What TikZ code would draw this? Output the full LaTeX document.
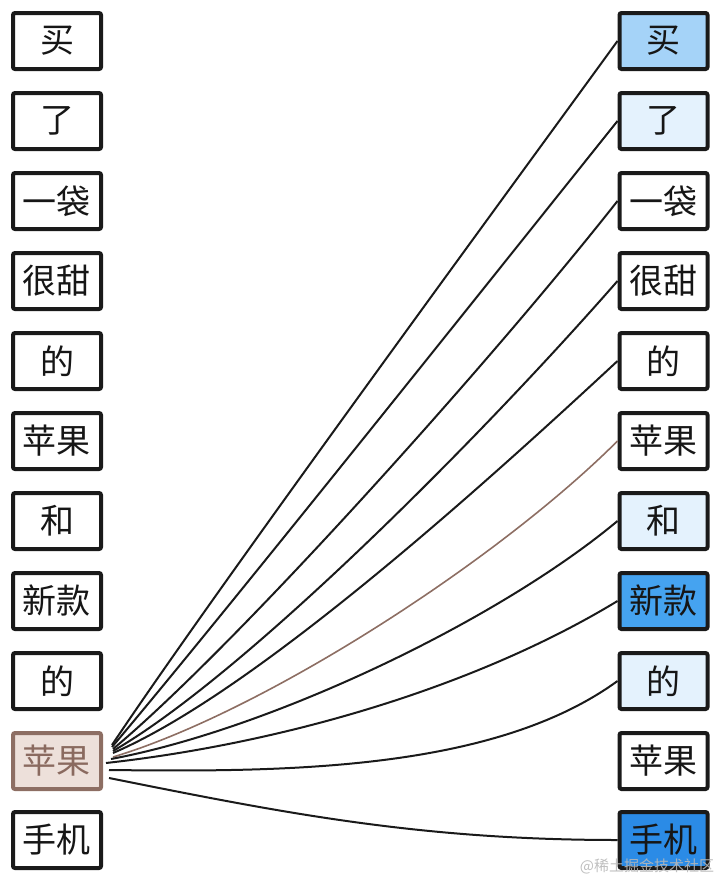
\documentclass[tikz,border=0pt]{standalone}
\usepackage{fontspec}
\newfontfamily\cjk{Noto Sans CJK SC}
\definecolor{boxline}{HTML}{1A1A1A}
\definecolor{txt}{HTML}{161616}
\definecolor{linec}{HTML}{1A1A1A}
\definecolor{brownline}{HTML}{8D6E63}
\definecolor{brownfill}{HTML}{EDE0DA}
\definecolor{browntxt}{HTML}{8A6A5F}
\definecolor{bA}{HTML}{A5D3F8}
\definecolor{bB}{HTML}{E4F2FD}
\definecolor{bC}{HTML}{45A3F0}
\definecolor{bD}{HTML}{2B8BE6}
\begin{document}
\begin{tikzpicture}[x=1pt,y=-1pt,
  tok/.style={draw=boxline, line width=4pt, rounded corners=2pt,
    minimum width=88pt, minimum height=56pt, inner sep=0pt,
    font=\cjk\fontsize{34}{34}\selectfont, text=txt, fill=white},
  hl/.style={tok, draw=brownline, fill=brownfill, text=browntxt},
  link/.style={line width=2pt, draw=linec},
  blink/.style={line width=1.6pt, draw=brownline},
  wmark/.style={font=\cjk\fontsize{15}{15}\selectfont, text=black!28, opacity=0.9, inner sep=0pt}
]
\useasboundingbox (0,0) rectangle (720,881);
% left column
\node[tok] (L1)  at (57,41)  {买};
\node[tok] (L2)  at (57,121) {了};
\node[tok] (L3)  at (57,201) {一袋};
\node[tok] (L4)  at (57,281) {很甜};
\node[tok] (L5)  at (57,361) {的};
\node[tok] (L6)  at (57,441) {苹果};
\node[tok] (L7)  at (57,521) {和};
\node[tok] (L8)  at (57,601) {新款};
\node[tok] (L9)  at (57,681) {的};
\node[hl]  (L10) at (57,761) {苹果};
\node[tok] (L11) at (57,840) {手机};
% right column
\node[tok, fill=bA] (R1)  at (663.5,41)  {买};
\node[tok, fill=bB] (R2)  at (663.5,121) {了};
\node[tok] (R3)  at (663.5,201) {一袋};
\node[tok] (R4)  at (663.5,281) {很甜};
\node[tok] (R5)  at (663.5,361) {的};
\node[tok] (R6)  at (663.5,441) {苹果};
\node[tok, fill=bB] (R7)  at (663.5,521) {和};
\node[tok, fill=bC] (R8)  at (663.5,601) {新款};
\node[tok, fill=bB] (R9)  at (663.5,681) {的};
\node[tok] (R10) at (663.5,761) {苹果};
\node[tok, fill=bD] (R11) at (663.5,840) {手机};
% start points of the links
\coordinate (s1)  at (112,745);
\coordinate (s2)  at (112,747);
\coordinate (s3)  at (113,749);
\coordinate (s4)  at (113,751);
\coordinate (s5)  at (113,753);
\coordinate (s6)  at (113,757);
\coordinate (s7)  at (111,759);
\coordinate (s8)  at (106,763);
\coordinate (s9)  at (109,770);
\coordinate (s10) at (109,778);
% links
\draw[link] (s1) .. controls +(100,-150) and +(-120,165) .. (R1.west);
\draw[link] (s2) .. controls +(110,-130) and +(-120,150) .. (R2.west);
\draw[link] (s3) .. controls +(120,-100) and +(-130,165) .. (R3.west);
\draw[link] (s4) .. controls +(130,-75) and +(-140,160) .. (R4.west);
\draw[link] (s5) .. controls +(140,-60) and +(-140,130) .. (R5.west);
\draw[blink] (s6) .. controls +(150,-45) and +(-120,120) .. (R6.west);
\draw[link] (s7) .. controls +(160,-30) and +(-120,100) .. (R7.west);
\draw[link] (s8) .. controls +(180,-20) and +(-140,85) .. (R8.west);
\draw[link] (s9) .. controls +(171,2) and +(-125,91) .. (R9.west);
\draw[link] (s10) .. controls +(170,34) and +(-200,0) .. (R11.west);
% watermark
\node[wmark] (wm) at (647,866) {@稀土掘金技术社区};
\end{tikzpicture}
\end{document}
